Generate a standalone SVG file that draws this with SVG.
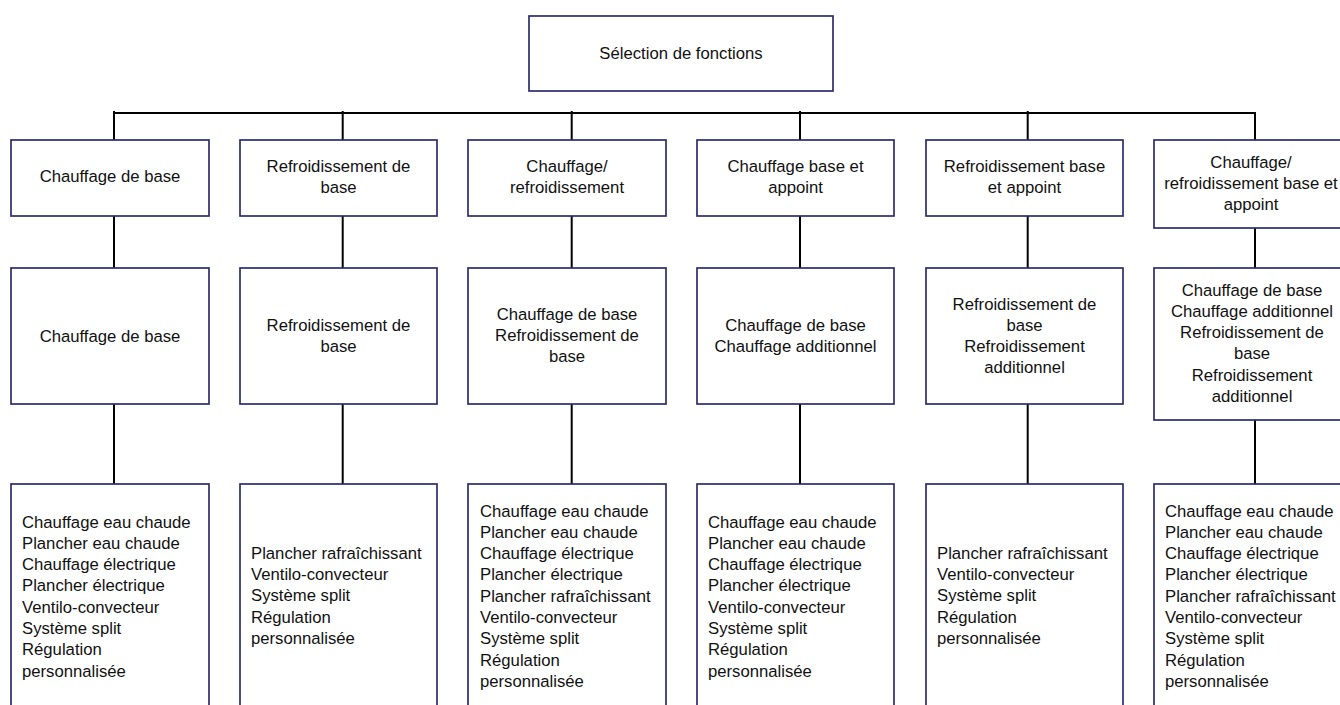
<svg xmlns="http://www.w3.org/2000/svg" width="1340" height="705" viewBox="0 0 1340 705">
<style>
.box{fill:#fff;stroke:#2b2d6e;stroke-width:1.7}
.t{font-family:"Liberation Sans",Arial,sans-serif;font-size:16.7px;fill:#111}
.c{text-anchor:middle}
.conn line{stroke:#000;stroke-width:2}
</style>
<rect width="1340" height="705" fill="#fff"/>
<g id="connectors" class="conn">
<line x1="113" y1="113" x2="1256" y2="113"/>
<line x1="114" y1="111" x2="114" y2="140"/>
<line x1="342.7" y1="111" x2="342.7" y2="140"/>
<line x1="571.7" y1="111" x2="571.7" y2="140"/>
<line x1="800" y1="111" x2="800" y2="140"/>
<line x1="1027.7" y1="111" x2="1027.7" y2="140"/>
<line x1="1255" y1="112" x2="1255" y2="140"/>
<line x1="114" y1="216" x2="114" y2="268"/>
<line x1="342.7" y1="216" x2="342.7" y2="268"/>
<line x1="571.7" y1="216" x2="571.7" y2="268"/>
<line x1="800" y1="216" x2="800" y2="268"/>
<line x1="1027.7" y1="216" x2="1027.7" y2="268"/>
<line x1="1255" y1="228" x2="1255" y2="268"/>
<line x1="114" y1="404" x2="114" y2="484"/>
<line x1="342.7" y1="404" x2="342.7" y2="484"/>
<line x1="571.7" y1="404" x2="571.7" y2="484"/>
<line x1="800" y1="404" x2="800" y2="484"/>
<line x1="1027.7" y1="404" x2="1027.7" y2="484"/>
<line x1="1255" y1="420" x2="1255" y2="484"/>
</g>
<g id="root">
<rect class="box" x="529" y="16" width="304" height="75"/>
<text class="t c" x="681" y="58.5">Sélection de fonctions</text>
</g>
<g id="f1">
<rect class="box" x="11" y="140" width="198" height="76"/>
<text class="t c" x="110" y="182.2">Chauffage de base</text>
</g>
<g id="f2">
<rect class="box" x="240" y="140" width="197" height="76"/>
<text class="t c"><tspan x="338.5" y="172.2">Refroidissement de</tspan><tspan x="338.5" y="193.4">base</tspan></text>
</g>
<g id="f3">
<rect class="box" x="468" y="140" width="198" height="76"/>
<text class="t c"><tspan x="567" y="172.2">Chauffage/</tspan><tspan x="567" y="193.4">refroidissement</tspan></text>
</g>
<g id="f4">
<rect class="box" x="697" y="140" width="197" height="76"/>
<text class="t c"><tspan x="795.5" y="172.2">Chauffage base et</tspan><tspan x="795.5" y="193.4">appoint</tspan></text>
</g>
<g id="f5">
<rect class="box" x="926" y="140" width="197" height="76"/>
<text class="t c"><tspan x="1024.5" y="172.2">Refroidissement base</tspan><tspan x="1024.5" y="193.4">et appoint</tspan></text>
</g>
<g id="f6">
<rect class="box" x="1154" y="140" width="198" height="88"/>
<text class="t c"><tspan x="1251" y="167.8">Chauffage/</tspan><tspan x="1251" y="189">refroidissement base et</tspan><tspan x="1251" y="210.2">appoint</tspan></text>
</g>
<g id="m1">
<rect class="box" x="11" y="268" width="198" height="136"/>
<text class="t c" x="110" y="341.5">Chauffage de base</text>
</g>
<g id="m2">
<rect class="box" x="240" y="268" width="197" height="136"/>
<text class="t c"><tspan x="338.5" y="330.5">Refroidissement de</tspan><tspan x="338.5" y="351.8">base</tspan></text>
</g>
<g id="m3">
<rect class="box" x="468" y="268" width="198" height="136"/>
<text class="t c"><tspan x="567" y="319.5">Chauffage de base</tspan><tspan x="567" y="340.8">Refroidissement de</tspan><tspan x="567" y="362.1">base</tspan></text>
</g>
<g id="m4">
<rect class="box" x="697" y="268" width="197" height="136"/>
<text class="t c"><tspan x="795.5" y="330.8">Chauffage de base</tspan><tspan x="795.5" y="352.1">Chauffage additionnel</tspan></text>
</g>
<g id="m5">
<rect class="box" x="926" y="268" width="197" height="136"/>
<text class="t c"><tspan x="1024.5" y="309.5">Refroidissement de</tspan><tspan x="1024.5" y="330.8">base</tspan><tspan x="1024.5" y="352.1">Refroidissement</tspan><tspan x="1024.5" y="373.4">additionnel</tspan></text>
</g>
<g id="m6">
<rect class="box" x="1154" y="268" width="198" height="152"/>
<text class="t c"><tspan x="1252" y="295.5">Chauffage de base</tspan><tspan x="1252" y="316.8">Chauffage additionnel</tspan><tspan x="1252" y="338.1">Refroidissement de</tspan><tspan x="1252" y="359.4">base</tspan><tspan x="1252" y="380.7">Refroidissement</tspan><tspan x="1252" y="402">additionnel</tspan></text>
</g>
<g id="s1">
<rect class="box" x="11" y="484" width="198" height="225"/>
<text class="t"><tspan x="22" y="527.5">Chauffage eau chaude</tspan><tspan x="22" y="548.8">Plancher eau chaude</tspan><tspan x="22" y="570.1">Chauffage électrique</tspan><tspan x="22" y="591.4">Plancher électrique</tspan><tspan x="22" y="612.7">Ventilo-convecteur</tspan><tspan x="22" y="634">Système split</tspan><tspan x="22" y="655.3">Régulation</tspan><tspan x="22" y="676.6">personnalisée</tspan></text>
</g>
<g id="s2">
<rect class="box" x="240" y="484" width="197" height="225"/>
<text class="t"><tspan x="251" y="558.8">Plancher rafraîchissant</tspan><tspan x="251" y="580.1">Ventilo-convecteur</tspan><tspan x="251" y="601.4">Système split</tspan><tspan x="251" y="622.7">Régulation</tspan><tspan x="251" y="644">personnalisée</tspan></text>
</g>
<g id="s3">
<rect class="box" x="468" y="484" width="198" height="225"/>
<text class="t"><tspan x="480" y="516.5">Chauffage eau chaude</tspan><tspan x="480" y="537.8">Plancher eau chaude</tspan><tspan x="480" y="559.1">Chauffage électrique</tspan><tspan x="480" y="580.4">Plancher électrique</tspan><tspan x="480" y="601.7">Plancher rafraîchissant</tspan><tspan x="480" y="623">Ventilo-convecteur</tspan><tspan x="480" y="644.3">Système split</tspan><tspan x="480" y="665.6">Régulation</tspan><tspan x="480" y="686.9">personnalisée</tspan></text>
</g>
<g id="s4">
<rect class="box" x="697" y="484" width="197" height="225"/>
<text class="t"><tspan x="708" y="527.5">Chauffage eau chaude</tspan><tspan x="708" y="548.8">Plancher eau chaude</tspan><tspan x="708" y="570.1">Chauffage électrique</tspan><tspan x="708" y="591.4">Plancher électrique</tspan><tspan x="708" y="612.7">Ventilo-convecteur</tspan><tspan x="708" y="634">Système split</tspan><tspan x="708" y="655.3">Régulation</tspan><tspan x="708" y="676.6">personnalisée</tspan></text>
</g>
<g id="s5">
<rect class="box" x="926" y="484" width="197" height="225"/>
<text class="t"><tspan x="937" y="558.8">Plancher rafraîchissant</tspan><tspan x="937" y="580.1">Ventilo-convecteur</tspan><tspan x="937" y="601.4">Système split</tspan><tspan x="937" y="622.7">Régulation</tspan><tspan x="937" y="644">personnalisée</tspan></text>
</g>
<g id="s6">
<rect class="box" x="1154" y="484" width="198" height="225"/>
<text class="t"><tspan x="1165" y="516.5">Chauffage eau chaude</tspan><tspan x="1165" y="537.8">Plancher eau chaude</tspan><tspan x="1165" y="559.1">Chauffage électrique</tspan><tspan x="1165" y="580.4">Plancher électrique</tspan><tspan x="1165" y="601.7">Plancher rafraîchissant</tspan><tspan x="1165" y="623">Ventilo-convecteur</tspan><tspan x="1165" y="644.3">Système split</tspan><tspan x="1165" y="665.6">Régulation</tspan><tspan x="1165" y="686.9">personnalisée</tspan></text>
</g>
</svg>
